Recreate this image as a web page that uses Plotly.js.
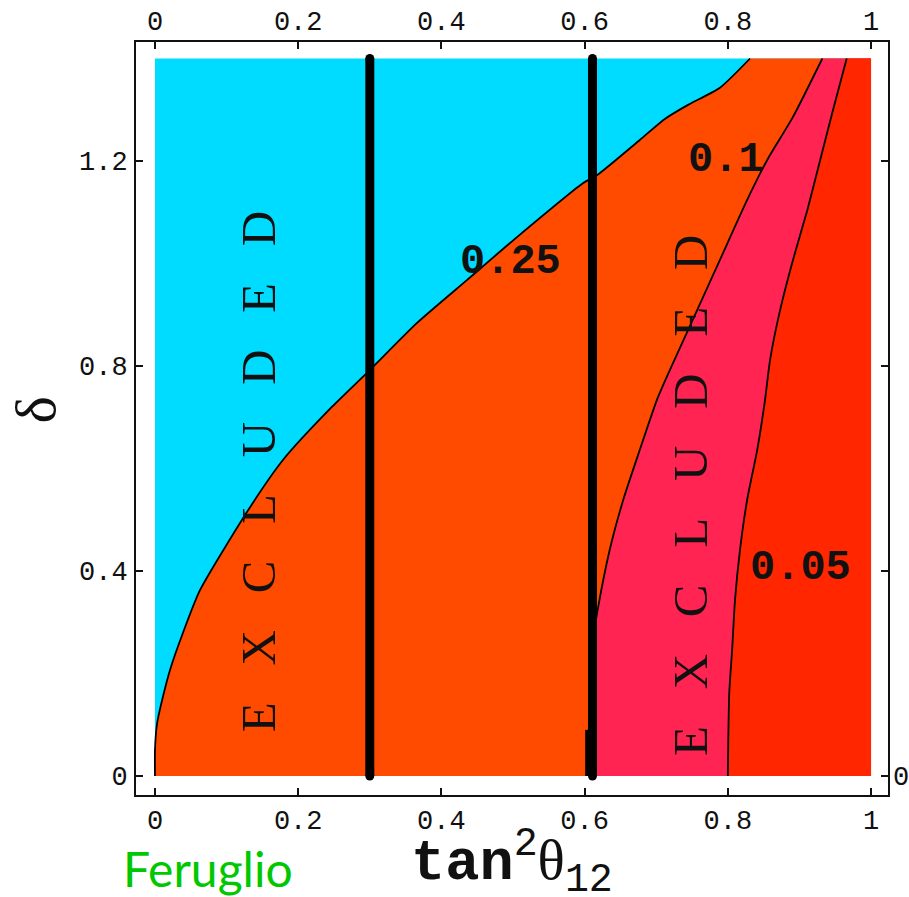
<!DOCTYPE html>
<html>
<head>
<meta charset="utf-8">
<script src="https://cdn.plot.ly/plotly-3.0.1.min.js"></script>
<style>html,body{margin:0;padding:0;background:#fff;}#plot{width:909px;height:897px;}</style>
</head>
<body>
<div id="plot"></div>
<script>
// ---- data ----
// region extents (tan^2 theta12, delta)
const regionX = [0, 1];
const regionY = [0, 1.4];

// contour 0.25 (cyan / orange boundary)
const c025x = [0, 0, 0.003, 0.011, 0.021, 0.039, 0.063, 0.133, 0.179, 0.247, 0.300, 0.366, 0.436, 0.506, 0.598, 0.617, 0.677, 0.712, 0.745, 0.789, 0.831];
const c025y = [0, 0.051, 0.103, 0.154, 0.207, 0.279, 0.363, 0.525, 0.617, 0.720, 0.792, 0.884, 0.968, 1.052, 1.157, 1.172, 1.241, 1.282, 1.310, 1.343, 1.4];

// contour 0.1 (orange / pink boundary)
const c010x = [0.612, 0.614, 0.619, 0.635, 0.654, 0.677, 0.701, 0.719, 0.751, 0.789, 0.827, 0.855, 0.891, 0.932];
const c010y = [0, 0.285, 0.330, 0.441, 0.539, 0.636, 0.734, 0.792, 0.890, 1.007, 1.124, 1.202, 1.286, 1.4];

// contour 0.05 (pink / red boundary)
const c005x = [0.800, 0.802, 0.806, 0.810, 0.817, 0.827, 0.841, 0.852, 0.859, 0.873, 0.891, 0.911, 0.929, 0.947, 0.966];
const c005y = [0, 0.162, 0.246, 0.343, 0.441, 0.539, 0.636, 0.734, 0.812, 0.909, 1.007, 1.104, 1.202, 1.300, 1.4];

// thick vertical lines (tan^2 theta12 values)
const vlineX = [0.30, 0.611];
const vlineStubX = [0.605];
const vlineStubY = [0, 0.09];

// ticks
const xTickVals = [0, 0.2, 0.4, 0.6, 0.8, 1];
const xTickText = ['0', '0.2', '0.4', '0.6', '0.8', '1'];
const yTickVals = [0, 0.4, 0.8, 1.2];
const yTickText = ['0', '0.4', '0.8', '1.2'];

// contour labels
const contourLabels = ['0.25', '0.1', '0.05'];

// ---- build ----
const cyan = '#00DCFF', orange = '#FF4B00', pink = '#FF2452', red = '#FF2600';
const x0 = regionX[0], x1 = regionX[1], y0 = regionY[0], y1 = regionY[1];

function region(cx, cy, color) {
  return {
    x: cx.concat([x1, x1]), y: cy.concat([y1, y0]),
    mode: 'lines', fill: 'toself', fillcolor: color,
    line: {width: 0, color: color}, hoverinfo: 'skip', type: 'scatter'
  };
}
function curve(cx, cy) {
  return {x: cx, y: cy, mode: 'lines', line: {color: '#000', width: 1.8, shape: 'spline', smoothing: 0.6}, hoverinfo: 'skip', type: 'scatter'};
}

const traces = [
  {x: [x0, x1, x1, x0], y: [y0, y0, y1, y1], mode: 'lines', fill: 'toself', fillcolor: cyan,
   line: {width: 0, color: cyan}, hoverinfo: 'skip', type: 'scatter'},
  region(c025x, c025y, orange),
  region(c010x, c010y, pink),
  region(c005x, c005y, red),
  curve(c025x, c025y),
  curve(c010x, c010y),
  curve(c005x, c005y)
];
vlineX.forEach(v => traces.push({
  x: [v, v], y: [y0, y1], mode: 'lines+markers', line: {color: '#000', width: 9},
  marker: {color: '#000', size: 9}, hoverinfo: 'skip', type: 'scatter'
}));
traces.push({x: [vlineStubX[0], vlineStubX[0]], y: vlineStubY, mode: 'lines', line: {color: '#000', width: 6}, hoverinfo: 'skip', type: 'scatter'});
// helper traces so the secondary axes are drawn
traces.push({x: [0], y: [0], xaxis: 'x2', yaxis: 'y', mode: 'markers', marker: {opacity: 0}, hoverinfo: 'skip', type: 'scatter'});
traces.push({x: [0], y: [0], xaxis: 'x', yaxis: 'y2', mode: 'markers', marker: {opacity: 0}, hoverinfo: 'skip', type: 'scatter'});

const tickFont = {family: 'Liberation Mono, monospace', size: 27, color: '#111'};
const xr = [-0.0265, 1.0237], yr = [-0.0371, 1.4322];
const axisCommon = {
  showgrid: false, zeroline: false, showline: true, linecolor: '#111', linewidth: 2,
  ticks: 'inside', ticklen: 7, tickwidth: 2, tickcolor: '#111', mirror: 'ticks', tickfont: tickFont
};

const exclText = 'E\u2002 X\u2002 C\u2002 L\u2002 U\u2002 D\u2002 E\u2002 D';
const exclFont = {family: 'Liberation Serif, serif', size: 49, color: '#111'};
const lblFont = {family: 'Liberation Mono, monospace', size: 42, color: '#111', weight: 'bold'};

const layout = {
  width: 909, height: 897,
  margin: {l: 136, r: 21, t: 42, b: 102, pad: 0},
  paper_bgcolor: '#fff', plot_bgcolor: '#fff', showlegend: false,
  xaxis: Object.assign({}, axisCommon, {range: xr, tickvals: xTickVals, ticktext: xTickText, ticklabelstandoff: 0}),
  yaxis: Object.assign({}, axisCommon, {range: yr, tickvals: yTickVals, ticktext: yTickText, ticklabelstandoff: 1}),
  xaxis2: {overlaying: 'x', side: 'top', range: xr, tickvals: xTickVals, ticktext: xTickText,
           showgrid: false, zeroline: false, showline: false, ticks: '', tickfont: tickFont, ticklabelstandoff: 6},
  yaxis2: {overlaying: 'y', side: 'right', range: yr, tickvals: [0], ticktext: ['0'],
           showgrid: false, zeroline: false, showline: false, ticks: '', tickfont: tickFont, ticklabelstandoff: 4},
  annotations: [
    {x: 0.144, y: 0.593, xref: 'x', yref: 'y', text: exclText, textangle: -90, showarrow: false, font: exclFont},
    {x: 0.747, y: 0.548, xref: 'x', yref: 'y', text: exclText, textangle: -90, showarrow: false, font: exclFont},
    {x: 0.497, y: 1.003, xref: 'x', yref: 'y', text: contourLabels[0], showarrow: false, font: lblFont},
    {x: 0.797, y: 1.202, xref: 'x', yref: 'y', text: contourLabels[1], showarrow: false, font: lblFont},
    {x: 0.901, y: 0.406, xref: 'x', yref: 'y', text: contourLabels[2], showarrow: false, font: lblFont},
    {x: -0.134, y: 0.511, xref: 'paper', yref: 'paper', xanchor: 'center', yanchor: 'middle',
     text: 'δ', textangle: -90, showarrow: false,
     font: {family: 'Liberation Serif, serif', size: 58, color: '#111'}},
    {x: 0.5, y: -0.089, xref: 'paper', yref: 'paper', xanchor: 'center', yanchor: 'middle', showarrow: false,
     text: '<b>tan</b><sup>2</sup><span style="font-family:Liberation Serif">θ</span><sub>12</sub>',
     font: {family: 'Liberation Mono, monospace', size: 57, color: '#111'}},
    {x: 0.096, y: -0.097, xref: 'paper', yref: 'paper', xanchor: 'center', yanchor: 'middle',
     text: 'Feruglio', showarrow: false,
     font: {family: 'Lato, sans-serif', size: 48, color: '#00C800'}}
  ]
};

Plotly.newPlot('plot', traces, layout, {staticPlot: true, displayModeBar: false});
</script>
</body>
</html>
